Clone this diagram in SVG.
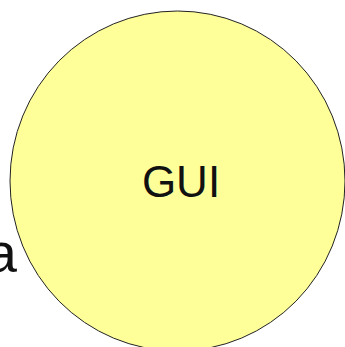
<svg xmlns="http://www.w3.org/2000/svg" width="345" height="347" viewBox="0 0 345 347">
<style>
.lbl{font-family:"Liberation Sans","DejaVu Sans",sans-serif;fill:#111}
.node{fill:#ffff99;stroke:#222;stroke-width:1}
</style>
<rect width="345" height="347" fill="#fff"/>
<g id="side-label">
<text class="lbl" x="17" y="272" font-size="56" text-anchor="end">a</text>
</g>
<g id="gui">
<ellipse class="node" cx="177.5" cy="181" rx="167.5" ry="170"/>
<text class="lbl" x="181" y="197" font-size="44" text-anchor="middle">GUI</text>
</g>
<g id="connectors"></g>
</svg>
